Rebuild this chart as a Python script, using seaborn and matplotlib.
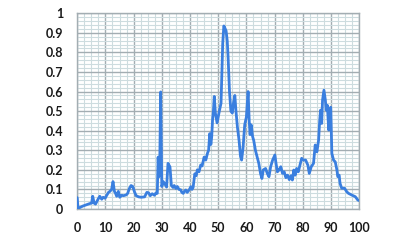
import matplotlib
matplotlib.use("Agg")
import matplotlib.pyplot as plt
from matplotlib.ticker import MultipleLocator
import seaborn as sns
import pandas as pd

x_vals = [0, 0.3, 1, 2, 3.3, 4.5, 5.1, 5.5, 6, 6.5, 7.4, 8, 8.7, 9.2, 9.9, 10.4, 11.1, 11.6,
          12.2, 12.7, 13.2, 13.6, 14, 14.6, 15.1, 15.8, 16.4, 17.4, 17.9, 18.5, 19.1, 19.7,
          20.3, 20.9, 21.8, 22.7, 23.9, 24.7, 25.3, 25.9, 26.6, 27.4, 27.9, 28.4, 28.7, 29.0,
          29.3, 29.6, 30.0, 30.5, 31.0, 31.7, 32.2, 32.9, 33.4, 34.0, 34.4, 35.0, 35.5, 36.1,
          36.7, 37.1, 37.6, 38.0, 38.5, 39.0, 39.3, 39.8, 40.3, 40.7, 41.1, 41.7, 42.2, 42.6,
          43.2, 43.8, 44.3, 45.0, 45.6, 46.2, 46.6, 47.0, 47.4, 47.7, 48.0, 48.3, 48.6, 49.0,
          49.6, 50.0, 50.4, 51.0, 51.3, 51.6, 52.0, 52.2, 52.8, 53.2, 53.5, 54.0, 54.5, 55.0,
          55.4, 55.9, 56.3, 56.8, 57.4, 57.9, 58.3, 58.8, 59.4, 60.0, 60.6, 61.0, 61.3, 61.7,
          62.2, 62.6, 63.2, 63.8, 64.4, 65.0, 65.5, 66.0, 66.8, 67.4, 68.0, 68.6, 69.3, 70.1,
          70.5, 71.0, 71.6, 72.2, 72.8, 73.4, 74.0, 74.6, 75.2, 75.8, 76.3, 76.8, 77.3, 77.8,
          78.4, 79.0, 79.6, 80.2, 81.0, 81.8, 82.3, 83.0, 83.8, 84.4, 85.0, 85.6, 86.0, 86.3,
          86.7, 87.0, 87.5, 88.0, 88.3, 88.7, 89.2, 89.6, 89.9, 90.1, 90.3, 90.9, 91.5, 92.1,
          92.4, 92.9, 93.2, 93.8, 94.8, 95.6, 96.2, 97.4, 98.6, 99.5, 100]

y_vals = [0.058, 0.003, 0.008, 0.015, 0.022, 0.028, 0.03, 0.065, 0.03, 0.025, 0.05, 0.065,
          0.05, 0.06, 0.055, 0.068, 0.085, 0.09, 0.1, 0.14, 0.09, 0.08, 0.065, 0.09, 0.06,
          0.07, 0.068, 0.072, 0.08, 0.105, 0.12, 0.115, 0.088, 0.068, 0.062, 0.06, 0.062,
          0.085, 0.083, 0.068, 0.078, 0.07, 0.082, 0.08, 0.265, 0.165, 0.26, 0.598, 0.115,
          0.14, 0.13, 0.112, 0.233, 0.215, 0.12, 0.11, 0.12, 0.105, 0.115, 0.1, 0.098, 0.085,
          0.08, 0.09, 0.097, 0.085, 0.09, 0.1, 0.114, 0.1, 0.11, 0.18, 0.17, 0.2, 0.19, 0.225,
          0.22, 0.265, 0.25, 0.285, 0.3, 0.385, 0.33, 0.37, 0.455, 0.5, 0.575, 0.49, 0.44,
          0.47, 0.5, 0.54, 0.7, 0.845, 0.935, 0.93, 0.91, 0.86, 0.78, 0.6, 0.5, 0.49, 0.54,
          0.58, 0.5, 0.42, 0.35, 0.27, 0.25, 0.31, 0.43, 0.47, 0.6, 0.45, 0.38, 0.43, 0.37,
          0.35, 0.3, 0.267, 0.233, 0.182, 0.156, 0.2, 0.207, 0.182, 0.165, 0.216, 0.25, 0.276,
          0.233, 0.19, 0.2, 0.216, 0.182, 0.19, 0.16, 0.173, 0.15, 0.17, 0.148, 0.199, 0.173,
          0.207, 0.19, 0.224, 0.259, 0.25, 0.25, 0.224, 0.182, 0.216, 0.233, 0.327, 0.292,
          0.352, 0.454, 0.505, 0.437, 0.556, 0.607, 0.556, 0.505, 0.53, 0.403, 0.505, 0.52,
          0.394, 0.284, 0.25, 0.241, 0.199, 0.165, 0.173, 0.131, 0.106, 0.106, 0.088, 0.08,
          0.071, 0.063, 0.046, 0.043]

x_ticks = [0, 10, 20, 30, 40, 50, 60, 70, 80, 90, 100]
y_ticks = [0, 0.1, 0.2, 0.3, 0.4, 0.5, 0.6, 0.7, 0.8, 0.9, 1]
y_labels = ["0", "0.1", "0.2", "0.3", "0.4", "0.5", "0.6", "0.7", "0.8", "0.9", "1"]

sns.set_style("white")
plt.rcParams["font.family"] = ["Lato", "DejaVu Sans"]

df = pd.DataFrame({"x": x_vals, "y": y_vals})

fig = plt.figure(figsize=(4, 2.5), dpi=100)
ax = fig.add_axes([0.193, 0.164, 0.705, 0.783])

ax.xaxis.set_minor_locator(MultipleLocator(2.5))
ax.yaxis.set_minor_locator(MultipleLocator(0.02))
ax.grid(which="minor", color="#cddcdf", linewidth=0.8, zorder=0)
ax.grid(which="major", color="#a3adb2", linewidth=1.0, zorder=0)
ax.set_axisbelow(True)

sns.lineplot(data=df, x="x", y="y", ax=ax, color="#3a7fdf", linewidth=2.0,
             estimator=None, sort=False, zorder=3)

ax.set_xlim(0, 100)
ax.set_ylim(0, 1)
ax.set_xticks(x_ticks)
ax.set_xticklabels([str(t) for t in x_ticks])
ax.set_yticks(y_ticks)
ax.set_yticklabels(y_labels)
ax.set_xlabel("")
ax.set_ylabel("")

ax.tick_params(axis="x", which="major", length=4, width=1, color="#a3adb2",
               labelsize=9, labelcolor="#1a1a1a", pad=5)
ax.tick_params(axis="y", which="major", length=4, width=1, color="#a3adb2",
               labelsize=9, labelcolor="#1a1a1a", pad=6)
ax.tick_params(axis="both", which="minor", length=0)
for lab in ax.get_xticklabels() + ax.get_yticklabels():
    lab.set_fontweight("bold")
for s in ax.spines.values():
    s.set_color("#a3adb2")
    s.set_linewidth(1.0)

fig.savefig("out.png", dpi=100)
